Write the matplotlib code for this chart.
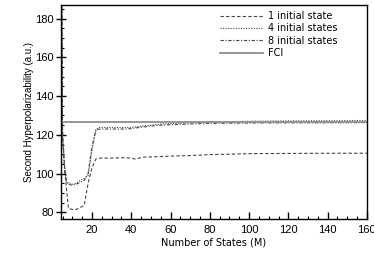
import matplotlib
matplotlib.use("Agg")
import matplotlib.pyplot as plt
from matplotlib.ticker import MultipleLocator

# Data
x1 = [4, 5, 6, 7, 8, 10, 12, 14, 16, 18, 20, 22, 24, 30, 36, 40, 42, 46, 50, 60, 70, 80, 90, 100, 120, 140, 160]
y1 = [300, 122, 104, 92, 82, 81.5, 81.5, 82.5, 83.5, 95, 103, 107.5, 108, 108, 108.2, 108, 107.5, 108.5, 108.6, 109, 109.3, 109.8, 110, 110.3, 110.4, 110.5, 110.5]

x4 = [4, 5, 6, 7, 8, 10, 12, 14, 16, 18, 20, 22, 24, 30, 36, 40, 44, 50, 55, 60, 70, 80, 100, 120, 140, 160]
y4 = [300, 119, 104, 96, 95, 94.5, 95, 96.5, 97.5, 99, 112, 123, 123.8, 123.8, 123.8, 123.8, 124.3, 125, 125.6, 125.8, 126.2, 126.6, 127, 127.2, 127.3, 127.4]

x8 = [4, 5, 6, 7, 8, 10, 12, 14, 16, 18, 20, 22, 24, 30, 36, 40, 44, 50, 55, 60, 70, 80, 100, 120, 140, 160]
y8 = [300, 118, 102, 95.5, 94.5, 94, 94.5, 95.5, 96.5, 100, 114, 122.5, 123, 123, 123, 123.2, 123.8, 124.5, 125, 125.2, 125.6, 125.9, 126.1, 126.2, 126.2, 126.3]

fci_value = 126.5

labels = ["1 initial state", "4 initial states", "8 initial states", "FCI"]

fig = plt.figure(figsize=(3.74, 2.64), dpi=100)
ax = fig.add_axes([0.162, 0.170, 0.819, 0.811])

lc = "#444444"
ax.plot(x1, y1, color=lc, lw=0.8, ls=(0, (3, 2)), label=labels[0])
ax.plot(x4, y4, color=lc, lw=0.8, ls=(0, (1, 1.3)), label=labels[1])
ax.plot(x8, y8, color=lc, lw=0.8, ls=(0, (3, 1.5, 1, 1.5)), label=labels[2])
ax.axhline(fci_value, color="#8f8f8f", lw=1.3, label=labels[3])

ax.set_xlim(4, 160)
ax.set_ylim(76.5, 187)
ax.xaxis.set_major_locator(MultipleLocator(20))
ax.xaxis.set_minor_locator(MultipleLocator(5))
ax.yaxis.set_major_locator(MultipleLocator(20))
ax.yaxis.set_minor_locator(MultipleLocator(5))

ax.tick_params(axis="x", which="major", direction="in", length=5, width=1, labelsize=8, pad=4)
ax.tick_params(axis="x", which="minor", direction="in", length=2.5, width=0.8)
ax.tick_params(axis="y", which="major", direction="inout", length=7, width=1, labelsize=8, pad=1.5)
ax.tick_params(axis="y", which="minor", direction="in", length=2.5, width=0.8)
for lab in ax.get_xticklabels() + ax.get_yticklabels():
    lab.set_fontfamily("Liberation Sans")
for s in ax.spines.values():
    s.set_linewidth(1.0)

ax.set_xlabel("Number of States (M)", fontsize=7, family="DejaVu Sans", labelpad=2)
ax.set_ylabel("Second Hyperpolarizability (a.u.)", fontsize=7, family="Liberation Sans", labelpad=1)

leg = ax.legend(loc="upper left", bbox_to_anchor=(0.52, 0.972), frameon=False,
                handlelength=4.4, handletextpad=0.55, labelspacing=0.25,
                borderaxespad=0, borderpad=0,
                prop={"family": "DejaVu Sans", "size": 7})

fig.savefig("out.png", dpi=100)
